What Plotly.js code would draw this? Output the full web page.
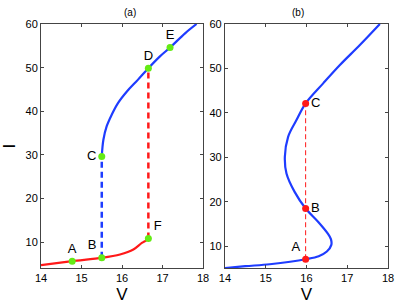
<!DOCTYPE html>
<html><head><meta charset="utf-8">
<script src="https://cdn.plot.ly/plotly-3.0.1.min.js"></script>
<style>body{margin:0;padding:0;background:#fff}#g{width:408px;height:306px}</style>
</head><body><div id="g"></div>
<script>
// Panel (a): upper (blue) branch
const aUpperV = [15.50, 15.54, 15.62, 15.745, 15.90, 16.12, 16.39, 16.65, 16.93, 17.185, 17.556, 17.84];
const aUpperI = [29.67, 33.48, 36.53, 39.2, 41.87, 44.53, 47.2, 49.87, 52.53, 54.6, 57.87, 60.0];
// Panel (a): lower (red) branch
const aLowerV = [14.0, 14.77, 15.50, 15.95, 16.28, 16.49, 16.60, 16.65];
const aLowerI = [4.74, 5.67, 6.43, 7.19, 8.33, 9.86, 10.45, 10.84];
// Panel (a): jump lines
const aJumpBV = [15.50, 15.50]; const aJumpBI = [6.43, 29.67];
const aJumpFV = [16.65, 16.65]; const aJumpFI = [10.84, 49.87];
// Panel (a): labelled points
const aPtLabels = ['A', 'B', 'C', 'D', 'E', 'F'];
const aPtV = [14.77, 15.50, 15.50, 16.65, 17.185, 16.65];
const aPtI = [5.67, 6.43, 29.67, 49.87, 54.6, 10.84];
// Panel (b): S-shaped curve
const bV = [14.0, 14.5, 15.10, 15.60, 15.98, 16.30, 16.50, 16.61, 16.60, 16.52, 16.29, 15.98, 15.71, 15.51, 15.47, 15.55, 15.755, 15.98, 16.41, 16.82, 17.31, 17.80];
const bI = [5.1, 5.5, 5.95, 6.5, 7.07, 7.75, 8.8, 10.3, 11.6, 12.9, 15.47, 18.49, 22.23, 26.37, 30.11, 34.62, 38.38, 42.14, 46.64, 50.77, 55.27, 60.0];
const bPtLabels = ['A', 'B', 'C'];
const bPtV = [15.98, 15.98, 15.98];
const bPtI = [7.07, 18.49, 42.14];
const bJumpV = [15.98, 15.98]; const bJumpI = [7.07, 42.14];
const xTicks = [14, 15, 16, 17, 18];
const yTicks = [10, 20, 30, 40, 50, 60];

const BLUE = 'rgb(30,60,255)', RED = 'rgb(255,25,25)', GREEN = 'rgb(100,235,20)';
const FONT = 'Liberation Sans, Arial, sans-serif';
const traces = [
  {x: aJumpBV, y: aJumpBI, mode: 'lines', line: {color: BLUE, width: 2.5, dash: '6px,4px'}, xaxis: 'x', yaxis: 'y'},
  {x: aJumpFV, y: aJumpFI, mode: 'lines', line: {color: RED, width: 2.5, dash: '6px,4px'}, xaxis: 'x', yaxis: 'y'},
  {x: aUpperV, y: aUpperI, mode: 'lines', line: {color: BLUE, width: 2.2, shape: 'spline', smoothing: 1}, xaxis: 'x', yaxis: 'y'},
  {x: aLowerV, y: aLowerI, mode: 'lines', line: {color: RED, width: 2.2, shape: 'spline', smoothing: 0.8}, xaxis: 'x', yaxis: 'y'},
  {x: aPtV, y: aPtI, mode: 'markers+text', text: aPtLabels,
   textposition: ['top center', 'top left', 'middle left', 'top center', 'top center', 'top right'],
   textfont: {family: FONT, size: 13, color: '#000'},
   marker: {color: GREEN, size: 7}, xaxis: 'x', yaxis: 'y'},
  {x: bJumpV, y: bJumpI, mode: 'lines', line: {color: RED, width: 1, dash: '5px,3px'}, xaxis: 'x2', yaxis: 'y2'},
  {x: bV, y: bI, mode: 'lines', line: {color: BLUE, width: 2.2, shape: 'spline', smoothing: 1}, xaxis: 'x2', yaxis: 'y2'},
  {x: bPtV, y: bPtI, mode: 'markers+text', text: bPtLabels,
   textposition: ['top left', 'middle right', 'middle right'],
   textfont: {family: FONT, size: 13, color: '#000'},
   marker: {color: RED, size: 7}, xaxis: 'x2', yaxis: 'y2'}
];
const tickFont = {family: FONT, size: 11, color: '#000'};
function xa(domain, anchor) {
  return {domain: domain, anchor: anchor, range: [14, 18], tickvals: xTicks, ticks: 'inside', ticklen: 3,
    mirror: 'ticks', showline: true, linecolor: '#444', linewidth: 1, showgrid: false, zeroline: false,
    tickfont: tickFont, title: {text: 'V', font: {family: FONT, size: 17, color: '#000'}, standoff: 4}};
}
function ya(anchor, range, showTitle) {
  return {anchor: anchor, domain: [0, 1], range: range, tickvals: yTicks, ticks: 'inside', ticklen: 3,
    mirror: 'ticks', showline: true, linecolor: '#444', linewidth: 1, showgrid: false, zeroline: false,
    tickfont: tickFont, title: showTitle ? {text: 'I', font: {family: FONT, size: 17, color: '#000'}, standoff: 10} : {text: ''}};
}
const layout = {
  width: 408, height: 306, showlegend: false,
  margin: {l: 41, r: 20, t: 24, b: 38},
  paper_bgcolor: '#fff', plot_bgcolor: '#fff',
  xaxis: xa([0, 0.467], 'y'), yaxis: ya('x', [4.1, 60], true),
  xaxis2: xa([0.530, 1], 'y2'), yaxis2: ya('x2', [5.1, 60], false),
  annotations: [
    {text: '(a)', xref: 'paper', yref: 'paper', x: 0.2335, y: 1, yanchor: 'bottom', yshift: 4, showarrow: false,
     font: {family: FONT, size: 10, color: '#000'}},
    {text: '(b)', xref: 'paper', yref: 'paper', x: 0.765, y: 1, yanchor: 'bottom', yshift: 4, showarrow: false,
     font: {family: FONT, size: 10, color: '#000'}}
  ]
};
Plotly.newPlot('g', traces, layout, {displayModeBar: false, staticPlot: true});
</script></body></html>
